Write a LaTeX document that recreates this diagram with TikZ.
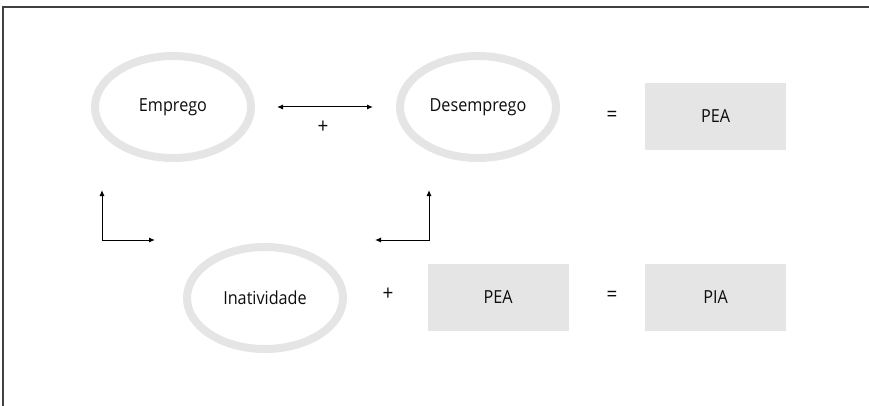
\documentclass[tikz,border=0pt]{standalone}
\usepackage{fontspec}
\setmainfont{Open Sans}[FakeStretch=0.9]
\usetikzlibrary{shapes.geometric,arrows.meta}
\definecolor{softgray}{HTML}{E5E5E5}
\begin{document}
\begin{tikzpicture}[
        x=1pt, y=-1pt,
        every node/.style={font=\fontsize{18}{20}\selectfont, text=black!95, inner sep=0pt},
        oval/.style={ellipse, draw=softgray, line width=8pt, minimum width=156pt, minimum height=102pt},
        box/.style={fill=softgray, minimum width=141pt, minimum height=67pt},
        sign/.style={font=\fontsize{21}{22}\selectfont},
        link/.style={draw, line width=1pt, {Latex[length=6pt,width=5pt]}-{Latex[length=6pt,width=5pt]}}
    ]
 \useasboundingbox (0,0) rectangle (869,406);
 \draw[line width=1.2pt, black!75] (869,7) -- (3,7) -- (3,406);
 % top row
 \node[oval] (emp) at (173,107) {Emprego};
 \node[oval] (desemp) at (478,107) {Desemprego};
 \node[sign] (eqA) at (612,116) {=};
 \node[box] (peaA) at (715.5,116.5) {PEA};
 \draw[link] ([xshift=22pt]emp.east) -- ([xshift=-23pt]desemp.west);
 \node[sign] (plusA) at (323,127) {+};
 % bottom row
 \node[oval] (inat) at (265,298) {Inatividade};
 \node[sign] (plusB) at (388,294) {+};
 \node[box] (peaB) at (498,297.5) {PEA};
 \node[sign] (eqB) at (612,296) {=};
 \node[box] (pia) at (715.5,297.5) {PIA};
 % corner arrows
 \coordinate (upL) at (102,190);
 \coordinate (rtL) at (155,240);
 \coordinate (upR) at (429,190);
 \coordinate (lfR) at (375,240);
 \draw[link] (upL) |- (rtL);
 \draw[link] (upR) |- (lfR);
\end{tikzpicture}
\end{document}
